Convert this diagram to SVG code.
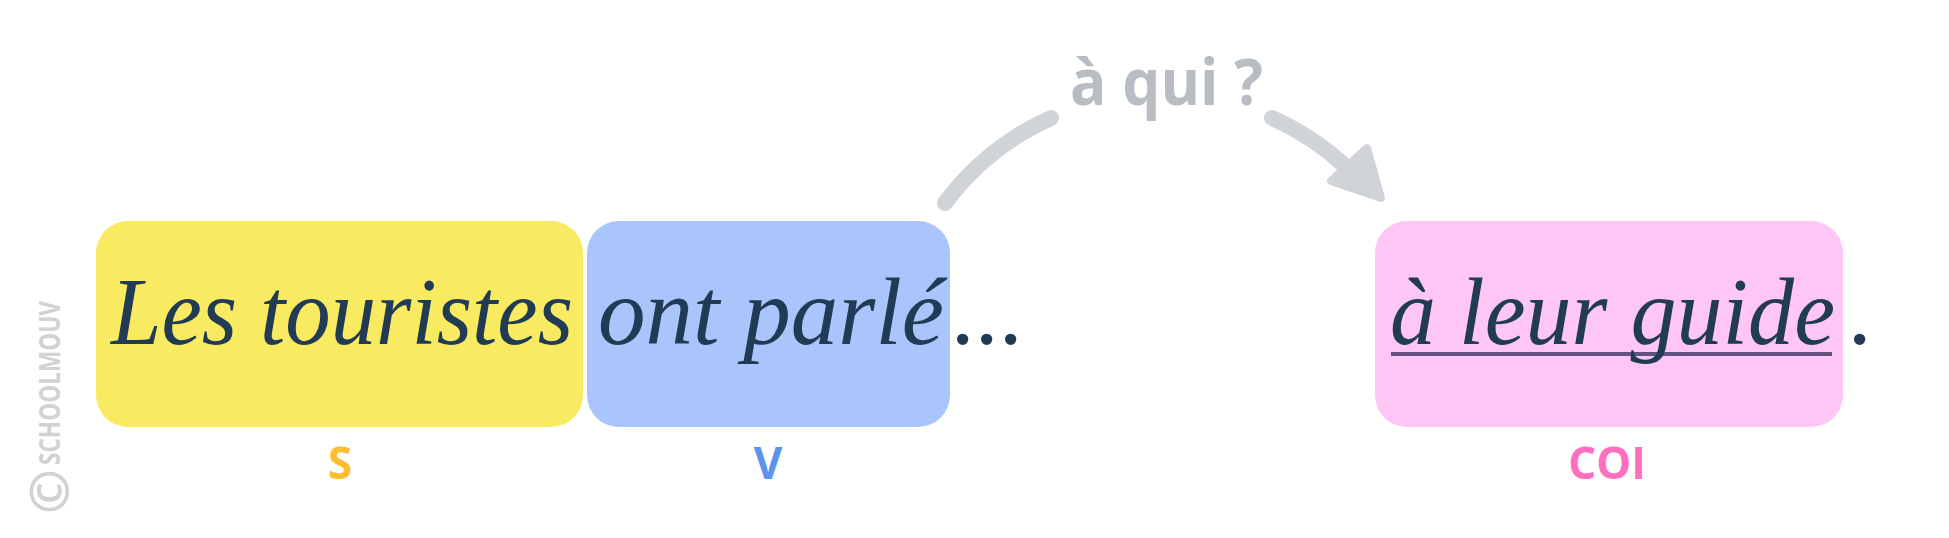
<svg xmlns="http://www.w3.org/2000/svg" width="1949" height="538" viewBox="0 0 1949 538">
  <style>
    .script { font-family: "Liberation Serif", "DejaVu Serif", serif; font-style: italic; font-size: 96px; fill: #223b54; }
    .lbl { font-family: "Open Sans", "Noto Sans", "Liberation Sans", sans-serif; font-weight: 700; font-size: 44px; text-anchor: middle; }
    .conn { fill: none; stroke: #d0d3d8; stroke-width: 16; stroke-linecap: round; }
    .head { fill: #d0d3d8; stroke: #d0d3d8; stroke-width: 8; stroke-linejoin: round; }
    .ask { font-family: "Open Sans", "Noto Sans", "Liberation Sans", sans-serif; font-weight: 700; font-size: 64px; fill: #b8bdc3; }
    .copy { font-family: "Open Sans", "Noto Sans", "Liberation Sans", sans-serif; font-weight: 700; fill: #d2d2d2; }
  </style>
  <rect width="1949" height="538" fill="#ffffff"/>

  <g id="watermark">
    <text class="copy" font-size="54" transform="translate(68,514) rotate(-90)">©</text>
    <text class="copy" font-size="29" textLength="164" lengthAdjust="spacingAndGlyphs" transform="translate(60,465) rotate(-90)">SCHOOLMOUV</text>
  </g>

  <g id="connectors">
    <path class="conn" d="M 945 203 A 270 270 0 0 1 1051 118"/>
    <path class="conn" d="M 1272 118 A 270 270 0 0 1 1345 166"/>
    <polygon class="head" points="1367,148 1331,181 1381,198"/>
    <text class="ask" x="1070" y="105" textLength="193" lengthAdjust="spacingAndGlyphs">à qui ?</text>
  </g>

  <g id="node-sujet">
    <rect x="96" y="221" width="487" height="206" rx="32" fill="#f9eb61"/>
    <text class="script" x="111" y="344" textLength="462" lengthAdjust="spacingAndGlyphs">Les touristes</text>
    <text class="lbl" x="340" y="479" fill="#fdbd2d">S</text>
  </g>

  <g id="node-verbe">
    <rect x="587" y="221" width="363" height="206" rx="32" fill="#aac4fc"/>
    <text class="script" x="598" y="344"><tspan textLength="346" lengthAdjust="spacingAndGlyphs">ont parlé</tspan><tspan x="953">...</tspan></text>
    <text class="lbl" x="768" y="479" fill="#5b93ef">V</text>
  </g>

  <g id="node-coi">
    <rect x="1375" y="221" width="468" height="206" rx="32" fill="#fec6f4"/>
    <rect x="1391" y="352" width="441" height="4" fill="#3a3660" fill-opacity="0.8"/>
    <text class="script" x="1390" y="344"><tspan textLength="445" lengthAdjust="spacingAndGlyphs">à leur guide</tspan><tspan x="1850">.</tspan></text>
    <text class="lbl" x="1607" y="479" fill="#ff6ebf">COI</text>
  </g>
</svg>
